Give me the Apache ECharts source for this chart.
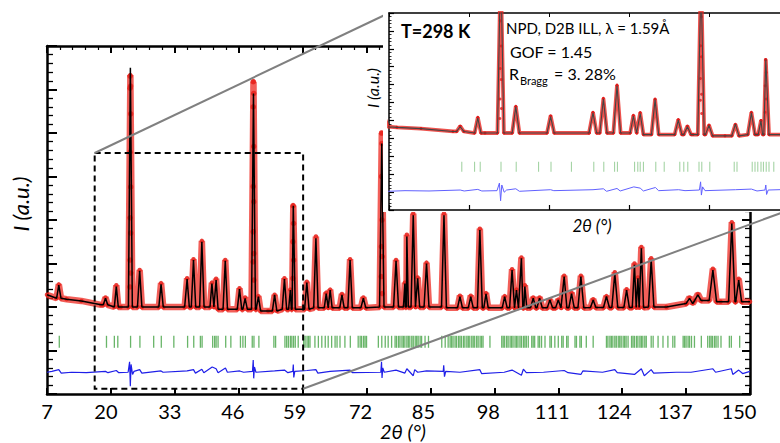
<!DOCTYPE html>
<html><head><meta charset="utf-8">
<script src="https://cdn.jsdelivr.net/npm/echarts@6/dist/echarts.min.js"></script>
<style>html,body{margin:0;padding:0;background:#fff}#c{width:780px;height:443px}</style>
</head><body><div id="c"></div>
<script>
// ================= DATA =================
const xTickLabels = [7, 20, 33, 46, 59, 72, 85, 98, 111, 124, 137, 150];

// background level (2θ knots, intensity a.u.)
const bgX = [7, 9, 11, 14, 18, 22, 35, 48, 52, 56, 65, 80, 95, 110, 125, 133, 137, 140, 144, 150];
const bgY = [2.28, 2.2, 2.18, 2.14, 2.05, 2.0, 2.0, 1.95, 1.91, 1.95, 1.98, 2.0, 1.98, 1.98, 1.99, 2.0, 2.08, 2.15, 2.12, 2.12];

// Bragg peaks of the pattern: position, calculated top, observed top, half width at the foot
const peakPos  = [9.4, 18.9, 21.1, 23.96, 25.85, 30.2, 35.5, 36.8, 38.5, 40.55, 41.4, 43.26, 46.16, 47.3, 49.0, 50.0, 53.3, 55.3, 56.5, 57.1, 59.85, 61.7, 63.8, 64.6, 67.0, 68.65, 71.35, 75.1, 78.0, 79.8, 80.2, 81.5, 82.4, 84.2, 87.75, 91.0, 93.2, 95.05, 96.3, 100.1, 101.6, 102.5, 103.5, 104.2, 105.9, 107.2, 109.3, 111.0, 112.2, 113.7, 115.6, 118.1, 120.8, 122.5, 124.9, 126.5, 127.2, 127.9, 129.9, 137.7, 139.4, 142.45, 146.3, 147.7];
const peakCalc = [2.5, 2.2, 2.47, 7.5, 2.83, 2.52, 2.64, 3.08, 3.5, 2.54, 2.62, 3.06, 2.41, 2.2, 6.91, 2.24, 2.28, 2.64, 2.39, 4.33, 2.56, 3.58, 2.31, 2.39, 2.28, 3.08, 2.2, 5.76, 3.06, 2.54, 3.62, 4.11, 2.66, 3.0, 4.11, 2.24, 2.24, 3.77, 2.3, 2.24, 2.85, 2.39, 3.12, 2.47, 2.2, 2.2, 2.16, 2.16, 2.7, 2.31, 2.7, 2.16, 2.24, 2.77, 2.39, 2.97, 2.66, 3.35, 3.08, 2.2, 2.28, 2.85, 3.92, 2.62];
const peakObs  = [2.52, 2.22, 2.5, 7.33, 2.85, 2.55, 2.66, 3.1, 3.52, 2.56, 2.65, 3.08, 2.43, 2.22, 7.18, 2.25, 2.28, 2.66, 2.4, 4.33, 2.58, 3.62, 2.33, 2.4, 2.3, 3.1, 2.22, 6.0, 3.08, 2.56, 3.66, 4.15, 2.68, 3.02, 4.15, 2.26, 2.26, 3.8, 2.32, 2.25, 2.87, 2.4, 3.14, 2.5, 2.22, 2.22, 2.17, 2.17, 2.72, 2.33, 2.72, 2.18, 2.25, 2.8, 2.41, 3.0, 2.68, 3.38, 3.12, 2.22, 2.3, 2.88, 3.95, 2.65];
const peakHalfWidth = [0.45, 0.45, 0.4, 0.4, 0.45, 0.45, 0.45, 0.45, 0.45, 0.4, 0.4, 0.45, 0.45, 0.45, 0.4, 0.45, 0.45, 0.45, 0.35, 0.4, 0.45, 0.45, 0.4, 0.4, 0.45, 0.45, 0.5, 0.45, 0.5, 0.3, 0.3, 0.45, 0.4, 0.5, 0.5, 0.5, 0.5, 0.5, 0.45, 0.5, 0.5, 0.4, 0.5, 0.4, 0.55, 0.55, 0.55, 0.55, 0.55, 0.55, 0.6, 0.55, 0.6, 0.6, 0.55, 0.45, 0.35, 0.45, 0.55, 0.65, 0.65, 0.75, 0.65, 0.6];

// observed points read on the flanks of the strongest reflections
const obsDotX = [23.9, 24.0, 23.9, 24.02, 23.9, 24.02, 23.9, 24.02, 23.88, 24.05, 23.86, 48.95, 49.05, 48.95, 49.05, 48.95, 49.05, 48.93, 49.07, 48.92, 49.08, 75.05, 75.15, 75.05, 75.15, 75.02, 75.18, 75.0, 75.2, 57.05, 57.15, 57.03, 57.17, 57.0];
const obsDotY = [7.31, 7.08, 7.03, 6.44, 5.56, 4.76, 4.05, 3.7, 3.08, 2.78, 2.46, 7.18, 6.91, 6.6, 5.69, 4.77, 4.42, 3.73, 3.23, 3.04, 2.62, 6.0, 5.76, 5.0, 4.0, 3.39, 3.16, 2.7, 2.31, 4.33, 3.92, 3.5, 3.08, 2.66];

// Bragg reflection positions (green ticks)
const braggPos = [9.5, 19.1, 20.7, 21.4, 24.0, 25.9, 28.7, 30.25, 32.8, 35.6, 36.85, 38.2, 38.55, 40.7, 41.1, 41.4, 41.8, 43.35, 44.4, 46.35, 46.85, 47.35, 48.75, 49.1, 50.1, 53.15, 53.5, 55.4, 55.75, 56.1, 56.5, 56.8, 57.15, 57.5, 58.1, 59.2, 59.5, 59.9, 60.2, 60.5, 61.5, 62.2, 62.9, 63.6, 64.2, 64.9, 65.6, 66.0, 66.6, 67.6, 68.7, 70.3, 70.7, 71.0, 71.4, 71.7, 72.0, 74.4, 75.1, 75.8, 76.4, 77.1, 77.8, 78.1, 78.5, 78.8, 79.2, 79.5, 79.8, 80.2, 80.5, 80.8, 81.2, 81.5, 81.9, 82.2, 82.5, 82.9, 83.2, 83.9, 84.6, 87.3, 88.0, 88.6, 89.0, 89.3, 89.6, 90.0, 90.3, 90.7, 91.0, 91.3, 91.7, 92.0, 92.4, 92.7, 93.0, 93.4, 93.7, 94.0, 94.4, 94.7, 95.1, 95.4, 95.7, 97.1, 99.5, 99.8, 100.1, 100.5, 100.8, 101.2, 101.5, 101.8, 102.2, 102.5, 102.8, 103.2, 103.5, 103.9, 104.2, 104.5, 104.9, 105.6, 105.9, 106.2, 106.9, 107.2, 107.6, 108.3, 109.3, 109.6, 110.3, 111.0, 111.7, 112.0, 112.7, 113.0, 114.4, 114.7, 115.4, 115.7, 116.7, 118.1, 120.8, 121.1, 121.5, 121.8, 122.1, 122.5, 122.8, 123.2, 123.5, 123.8, 124.2, 124.5, 124.8, 125.2, 125.9, 126.2, 126.5, 126.9, 127.2, 127.6, 127.9, 128.2, 128.6, 128.9, 129.9, 130.3, 131.3, 132.3, 133.3, 134.3, 134.7, 136.4, 136.7, 137.0, 137.4, 137.7, 138.1, 138.7, 140.1, 141.4, 141.8, 142.1, 142.4, 142.8, 143.1, 143.5, 144.1, 145.8, 146.2, 147.9];

// difference curve (Yobs - Ycalc, drawn with its offset)
const diffX = [7, 8, 9.4, 9.9, 12, 15, 18.9, 19.4, 21.1, 21.6, 23.5, 23.8, 23.95, 24.1, 24.4, 24.7, 25.85, 26.3, 30.2, 30.6, 35.5, 36.8, 37.2, 38.5, 38.9, 40.6, 41.4, 41.8, 43.3, 43.7, 46.2, 47, 48.8, 48.95, 49.05, 49.2, 49.5, 53.3, 55.3, 56, 57.0, 57.1, 57.2, 57.4, 59.9, 61.7, 62.1, 64.6, 68.65, 69.1, 74.9, 75.05, 75.15, 75.3, 75.6, 78, 79.8, 80.2, 81.5, 81.8, 82.4, 84.2, 87.6, 87.7, 87.85, 88.1, 91, 95.05, 95.4, 100, 101.6, 103.5, 103.9, 104.5, 108, 112.2, 113, 115.6, 116, 120, 122.5, 123, 126.5, 127.9, 128.5, 129.9, 130.4, 135, 138, 142.45, 143, 146.2, 146.5, 147.7, 148.5, 150];
const diffY = [0.5, 0.52, 0.56, 0.48, 0.5, 0.49, 0.52, 0.49, 0.54, 0.49, 0.5, 0.74, 0.18, 0.68, 0.45, 0.52, 0.56, 0.48, 0.53, 0.5, 0.53, 0.56, 0.48, 0.57, 0.49, 0.62, 0.58, 0.49, 0.6, 0.5, 0.53, 0.5, 0.52, 0.78, 0.36, 0.62, 0.5, 0.53, 0.55, 0.49, 0.52, 0.68, 0.38, 0.52, 0.54, 0.56, 0.48, 0.52, 0.55, 0.49, 0.5, 0.74, 0.37, 0.6, 0.5, 0.55, 0.48, 0.58, 0.42, 0.56, 0.5, 0.53, 0.52, 0.66, 0.4, 0.52, 0.5, 0.56, 0.47, 0.5, 0.55, 0.43, 0.57, 0.49, 0.5, 0.54, 0.49, 0.45, 0.53, 0.5, 0.56, 0.49, 0.45, 0.58, 0.42, 0.56, 0.48, 0.5, 0.5, 0.58, 0.5, 0.58, 0.45, 0.55, 0.47, 0.52];

const tickRowMain = 1.2;          // level of the Bragg tick row in the main panel
const zoomBoxX = [16.7, 59.1];    // dashed zoom window (2θ)
const zoomBoxY = [0.12, 5.54];    // dashed zoom window (intensity)
const insetX = [10, 60];
const insetY = [-0.444, 5.81];
const insetTickRow = 0.93;
const insetDiffShift = -0.33;

// ================= BUILD =================
const FONT = 'Lato, "Open Sans", "DejaVu Sans", sans-serif';
const labelShift = {7: 0, 20: 5, 33: 5, 46: 6, 59: 8, 72: 6, 85: 7, 98: 6, 111: 6, 124: 8, 137: 11, 150: 11};

function nearestBg(x) {
  let b = 0;
  for (let i = 1; i < bgX.length; i++) if (Math.abs(bgX[i] - x) < Math.abs(bgX[b] - x)) b = i;
  return bgY[b];
}
function profile(tops) {
  const pts = [];
  bgX.forEach((x, i) => {
    if (peakPos.every((p, j) => Math.abs(p - x) > peakHalfWidth[j])) pts.push([x, bgY[i]]);
  });
  peakPos.forEach((p, j) => {
    const w = peakHalfWidth[j];
    pts.push([p - w, nearestBg(p - w)], [p, tops[j]], [p + w, nearestBg(p + w)]);
  });
  pts.sort((a, b) => a[0] - b[0]);
  return pts;
}
const calcData = profile(peakCalc);
const obsData = profile(peakObs);
const dotData = obsDotX.map((x, i) => [x, obsDotY[i]]);
const diffData = diffX.map((x, i) => [x, diffY[i]]);
const diffInset = diffX.map((x, i) => [x, diffY[i] + insetDiffShift]);
const braggMain = braggPos.map(x => [x, tickRowMain]);
const braggInset = braggPos.map(x => [x, insetTickRow]);

const rich = {};
xTickLabels.forEach(v => { rich['s' + v] = {fontSize: 20, lineHeight: 17, fontFamily: FONT, color: '#000', padding: [0, 2 * labelShift[v], 0, 0]}; });

const chart = echarts.init(document.getElementById('c'), null, {renderer: 'svg'});

const black = '#000';
const option = {
  animation: false,
  backgroundColor: '#fff',
  grid: [
    {left: 47, top: 46, width: 703, height: 348, containLabel: false, outerBoundsMode: 'none'},
    {left: 389, top: 13, width: 400, height: 197, containLabel: false, outerBoundsMode: 'none'}
  ],
  xAxis: [
    {type: 'value', gridIndex: 0, position: 'bottom', min: 7, max: 150, interval: 13,
     axisLine: {show: true, onZero: false, lineStyle: {color: black, width: 2.5}},
     axisTick: {show: true, inside: true, length: 6, lineStyle: {color: black, width: 2}},
     minorTick: {show: false}, splitLine: {show: false},
     axisLabel: {show: true, margin: 8, lineHeight: 17, showMinLabel: true, showMaxLabel: true, formatter: v => '{s' + v + '|' + v + '}', rich: rich}},
    {type: 'value', gridIndex: 0, position: 'top', min: 7, max: 150, interval: 13,
     axisLine: {show: true, onZero: false, lineStyle: {color: black, width: 2.5}},
     axisTick: {show: true, inside: true, length: 7, lineStyle: {color: black, width: 2}},
     minorTick: {show: true, splitNumber: 5, length: 4, lineStyle: {color: black, width: 1.2}},
     splitLine: {show: false}, axisLabel: {show: false}},
    {type: 'value', gridIndex: 1, position: 'bottom', min: insetX[0], max: insetX[1], interval: 10, z: 12,
     axisLine: {show: true, onZero: false, lineStyle: {color: black, width: 1.5}},
     axisTick: {show: true, inside: true, length: 5, lineStyle: {color: black, width: 1.2}},
     splitLine: {show: false}, axisLabel: {show: false}},
    {type: 'value', gridIndex: 1, position: 'top', min: insetX[0], max: insetX[1], interval: 10, z: 12,
     axisLine: {show: true, onZero: false, lineStyle: {color: black, width: 1.5}},
     axisTick: {show: true, inside: true, length: 4, lineStyle: {color: black, width: 1}},
     splitLine: {show: false}, axisLabel: {show: false}}
  ],
  yAxis: [
    {type: 'value', gridIndex: 0, position: 'left', min: 0, max: 8, interval: 1,
     axisLine: {show: true, onZero: false, lineStyle: {color: black, width: 2.5}},
     axisTick: {show: true, inside: true, length: 10, lineStyle: {color: black, width: 2}},
     minorTick: {show: true, splitNumber: 5, length: 6, lineStyle: {color: black, width: 1.3}},
     splitLine: {show: false}, axisLabel: {show: false}},
    {type: 'value', gridIndex: 0, position: 'right', min: 0, max: 8, interval: 1,
     axisLine: {show: true, onZero: false, lineStyle: {color: black, width: 2.5}},
     axisTick: {show: true, inside: true, length: 8, lineStyle: {color: black, width: 2}},
     minorTick: {show: true, splitNumber: 5, length: 5, lineStyle: {color: black, width: 1.3}},
     splitLine: {show: false}, axisLabel: {show: false}},
    {type: 'value', gridIndex: 1, position: 'left', min: 0, max: 11, interval: 1, z: 12,
     axisLine: {show: true, onZero: false, lineStyle: {color: black, width: 1.5}},
     axisTick: {show: true, inside: true, length: 5, lineStyle: {color: black, width: 1.2}},
     minorTick: {show: true, splitNumber: 5, length: 2.5, lineStyle: {color: black, width: 0.8}},
     splitLine: {show: false}, axisLabel: {show: false}},
    {type: 'value', gridIndex: 1, show: false, min: insetY[0], max: insetY[1]}
  ],
  series: [
    {name: 'obs', type: 'line', xAxisIndex: 0, yAxisIndex: 0, data: obsData, symbol: 'circle', symbolSize: 4.5, showSymbol: true,
     itemStyle: {color: '#e8261f', opacity: 0.9}, lineStyle: {color: '#ee2a22', width: 6.5, opacity: 0.75}, z: 2},
    {name: 'obsDots', type: 'scatter', xAxisIndex: 0, yAxisIndex: 0, data: dotData, symbolSize: 5.5, itemStyle: {color: '#e8261f', opacity: 0.9}, z: 3},
    {name: 'calc', type: 'line', xAxisIndex: 0, yAxisIndex: 0, data: calcData, symbol: 'none', lineStyle: {color: '#000', width: 1.5}, z: 4},
    {name: 'bragg', type: 'scatter', xAxisIndex: 0, yAxisIndex: 0, data: braggMain, symbol: 'rect', symbolSize: [1.3, 12],
     itemStyle: {color: '#2a962a', opacity: 0.7}, z: 2},
    {name: 'diff', type: 'line', xAxisIndex: 0, yAxisIndex: 0, data: diffData, symbol: 'none', lineStyle: {color: '#1f1fe8', width: 1.2}, z: 2},

    {name: 'obsInset', type: 'line', xAxisIndex: 2, yAxisIndex: 3, data: obsData, symbol: 'circle', symbolSize: 3, showSymbol: true, clip: true,
     itemStyle: {color: '#e01a1a'}, lineStyle: {color: '#e8261f', width: 3.8, opacity: 0.8}, z: 12},
    {name: 'dotsInset', type: 'scatter', xAxisIndex: 2, yAxisIndex: 3, data: dotData, symbolSize: 3, clip: true, itemStyle: {color: '#e01a1a'}, z: 12},
    {name: 'calcInset', type: 'line', xAxisIndex: 2, yAxisIndex: 3, data: calcData, symbol: 'none', clip: true, lineStyle: {color: '#444', width: 1.1}, z: 13},
    {name: 'braggInset', type: 'scatter', xAxisIndex: 2, yAxisIndex: 3, data: braggInset, symbol: 'rect', symbolSize: [1, 10], clip: true,
     itemStyle: {color: '#4aa84a', opacity: 0.55}, z: 12},
    {name: 'diffInset', type: 'line', xAxisIndex: 2, yAxisIndex: 3, data: diffInset, symbol: 'none', clip: true, lineStyle: {color: '#6060ff', width: 1}, z: 12}
  ]
};
chart.setOption(option);

const tl = chart.convertToPixel({xAxisIndex: 0, yAxisIndex: 0}, [zoomBoxX[0], zoomBoxY[1]]);
const br = chart.convertToPixel({xAxisIndex: 0, yAxisIndex: 0}, [zoomBoxX[1], zoomBoxY[0]]);
const itl = chart.convertToPixel({xAxisIndex: 2, yAxisIndex: 3}, [insetX[0], insetY[1]]);
const ibr = chart.convertToPixel({xAxisIndex: 2, yAxisIndex: 3}, [insetX[1], insetY[0]]);

const txt = (x, y, text, font, extra) => Object.assign({type: 'text', x: x, y: y, z: 30, silent: true,
  style: {text: text, font: font, fill: '#000', align: 'left', verticalAlign: 'middle'}}, extra || {});

chart.setOption({
  graphic: {elements: [
    {type: 'rect', z: 8, silent: true, shape: {x: itl[0] - 6, y: 0, width: 780 - itl[0] + 6, height: ibr[1] + 2}, style: {fill: '#fff'}},
    {type: 'rect', z: 6, silent: true, shape: {x: tl[0], y: tl[1], width: br[0] - tl[0], height: br[1] - tl[1]},
     style: {fill: 'none', stroke: '#000', lineWidth: 2, lineDash: [6, 4]}},
    {type: 'line', z: 6, silent: true, shape: {x1: tl[0], y1: tl[1], x2: itl[0], y2: itl[1]}, style: {stroke: '#808080', lineWidth: 2}},
    {type: 'line', z: 6, silent: true, shape: {x1: br[0], y1: br[1], x2: ibr[0], y2: ibr[1]}, style: {stroke: '#808080', lineWidth: 2}},
    // main axis names
    {type: 'text', x: 403, y: 431, z: 30, silent: true, style: {text: '2θ (°)', font: 'italic 20px ' + FONT, lineHeight: 20, fill: '#000', align: 'center', verticalAlign: 'middle'}},
    {type: 'text', x: 20, y: 204, rotation: Math.PI / 2, z: 30, silent: true, style: {text: 'I (a.u.)', font: 'italic 22px ' + FONT, fill: '#000', align: 'center', verticalAlign: 'middle'}},
    // inset axis names
    {type: 'text', x: 592, y: 225, z: 30, silent: true, style: {text: '2θ (°)', font: 'italic 17px ' + FONT, fill: '#000', align: 'center', verticalAlign: 'middle'}},
    {type: 'text', x: 372, y: 88, rotation: Math.PI / 2, z: 30, silent: true, style: {text: 'I (a.u.)', font: 'italic 16px ' + FONT, fill: '#000', align: 'center', verticalAlign: 'middle'}},
    // annotations
    txt(401, 31, 'T=298 K', 'bold 18px ' + FONT),
    txt(506, 28, 'NPD, D2B ILL, λ = 1.59Å', '15px ' + FONT),
    txt(510, 51, 'GOF = 1.45', '16px ' + FONT),
    txt(509, 73, 'R', '16px ' + FONT),
    txt(520, 80, 'Bragg', '11px ' + FONT),
    txt(554, 73, '= 3. 28%', '16px ' + FONT)
  ]}
});
</script>
</body></html>
